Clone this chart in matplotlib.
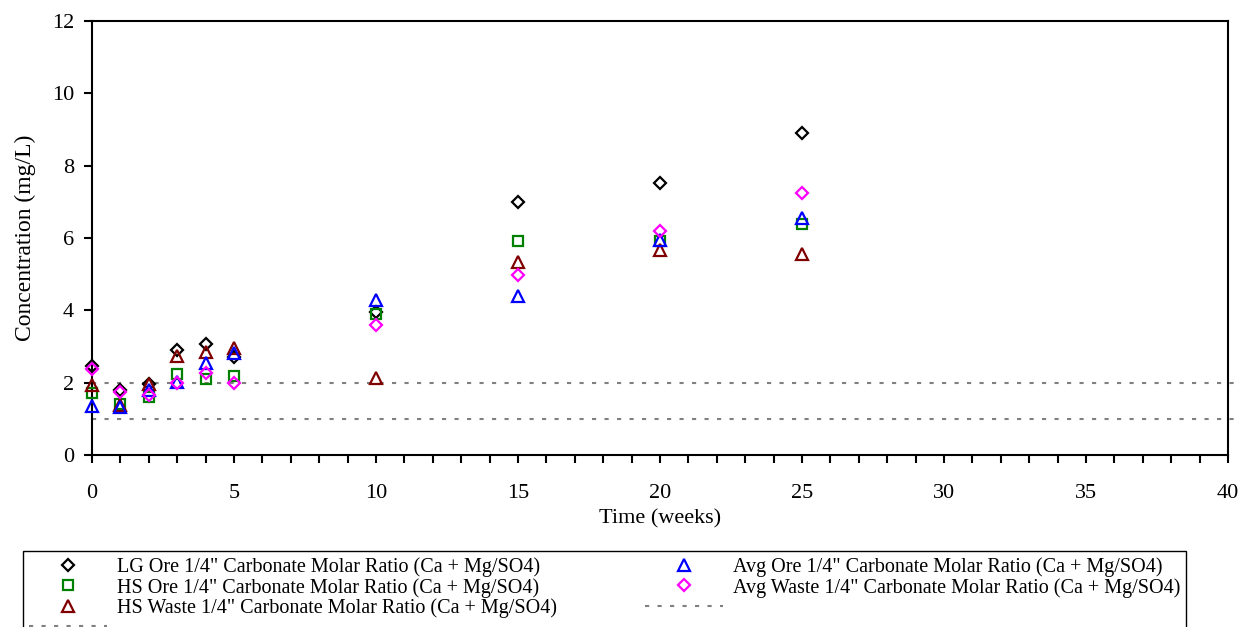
import matplotlib
matplotlib.use("Agg")
import matplotlib.pyplot as plt

plt.rcParams['font.family'] = ['Liberation Serif', 'DejaVu Serif']

weeks = [0, 1, 2, 3, 4, 5, 10, 15, 20, 25]

lg_ore = [2.47, 1.80, 1.96, 2.90, 3.07, 2.71, 3.96, 7.00, 7.51, 8.90]
hs_ore = [1.72, 1.41, 1.60, 2.24, 2.10, 2.19, 3.89, 5.93, 5.93, 6.38]
hs_waste = [1.93, 1.38, 1.96, 2.74, 2.84, 2.97, 2.14, 5.34, 5.67, 5.56]
avg_ore = [1.36, 1.32, 1.80, 2.01, 2.55, 2.81, 4.29, 4.40, 5.94, 6.54]
avg_waste = [2.37, 1.75, 1.66, 1.98, 2.28, 1.98, 3.59, 4.97, 6.18, 7.24]

ref_x = [0, 40.3]
ref_upper = [2, 2]
ref_lower = [1, 1]

labels = [
    'LG Ore 1/4" Carbonate Molar Ratio (Ca + Mg/SO4)',
    'HS Ore 1/4" Carbonate Molar Ratio (Ca + Mg/SO4)',
    'HS Waste 1/4" Carbonate Molar Ratio (Ca + Mg/SO4)',
    'Avg Ore 1/4" Carbonate Molar Ratio (Ca + Mg/SO4)',
    'Avg Waste 1/4" Carbonate Molar Ratio (Ca + Mg/SO4)',
]

fig = plt.figure(figsize=(12.48, 6.27), dpi=100)
ax = fig.add_axes([0.0737, 0.2743, 0.9103, 0.6922])

mk = dict(linestyle='none', markerfacecolor='none', markeredgewidth=1.6, clip_on=False, zorder=3)
h1, = ax.plot(weeks, lg_ore, marker='D', markersize=6.3, color='black', **mk)
h2, = ax.plot(weeks, hs_ore, marker='s', markersize=7.3, color='#008000', **mk)
h3, = ax.plot(weeks, hs_waste, marker='^', markersize=8.3, color='#800000', **mk)
h4, = ax.plot(weeks, avg_ore, marker='^', markersize=8.3, color='#0000FF', **mk)
h5, = ax.plot(weeks, avg_waste, marker='D', markersize=6.3, color='#FF00FF', **mk)

l1, = ax.plot(ref_x, ref_upper, color='#808080', linewidth=1.5, dashes=(2, 4), clip_on=False, zorder=2)
l2, = ax.plot(ref_x, ref_lower, color='#808080', linewidth=1.5, dashes=(2, 4), clip_on=False, zorder=2)

ax.set_xlim(0, 40)
ax.set_ylim(0, 12)
ax.set_xticks(range(0, 41, 5))
ax.set_xticks(range(0, 41, 1), minor=True)
ax.set_yticks(range(0, 13, 2))
ax.tick_params(axis='both', which='both', direction='out', length=6, width=1.5, labelsize=16, color='black')
ax.tick_params(axis='x', which='major', pad=15)
ax.tick_params(axis='y', which='major', pad=7)
for s in ax.spines.values():
    s.set_linewidth(1.5)

ax.set_xlabel('Time (weeks)', fontsize=16, labelpad=4)
ax.set_ylabel('Concentration (mg/L)', fontsize=17, labelpad=11)

handles = [h1, h2, h3, l2, h4, h5, l1]
leg_labels = [labels[0], labels[1], labels[2], ' ', labels[3], labels[4], ' ']
leg = fig.legend(handles, leg_labels, loc='upper left', bbox_to_anchor=(0.0184, 0.1212),
                 ncol=2, fontsize=14.5, frameon=True, fancybox=False, framealpha=1,
                 edgecolor='black', borderaxespad=0, borderpad=0.3, labelspacing=0.05,
                 handlelength=3.85, handletextpad=0.5, columnspacing=4.4)
leg.get_frame().set_linewidth(1.0)

fig.savefig('out.png', dpi=100)
